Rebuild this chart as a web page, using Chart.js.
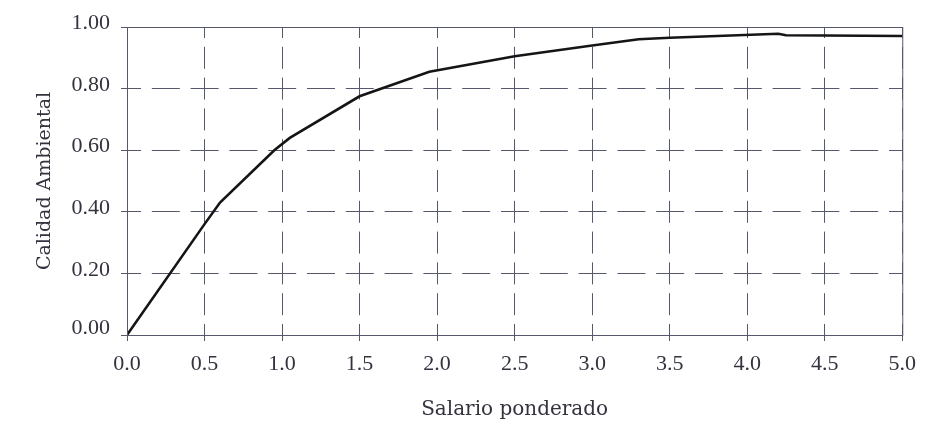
<!DOCTYPE html>
<html>
<head>
<meta charset="utf-8">
<script src="https://cdn.jsdelivr.net/npm/chart.js@4.4.0/dist/chart.umd.min.js"></script>
<style>
    html, body { margin: 0; padding: 0; background: #ffffff; }
    #wrap { width: 926px; height: 434px; }
</style>
</head>
<body>
<div id="wrap"><canvas id="chart" width="926" height="434"></canvas></div>
<script>
// Curve
const salario = [0, 0.5, 0.6, 0.95, 1.05, 1.5, 1.95, 2.5, 3.0, 3.3, 3.5, 4.2, 4.25, 5.0];
const calidad = [0, 0.36, 0.43, 0.6, 0.64, 0.775, 0.855, 0.905, 0.94, 0.96, 0.965, 0.978, 0.973, 0.971];

const xTicks = [0, 0.5, 1, 1.5, 2, 2.5, 3, 3.5, 4, 4.5, 5];
const yTicks = [0, 0.2, 0.4, 0.6, 0.8, 1.0];

const textColor = '#33333f';
const gridColor = '#55586a';
const tickFont = "'Liberation Serif', serif";
const titleFont = "'DejaVu Serif', serif";

// Solid frame around the plot area
const framePlugin = {
    id: 'frame',
    afterDraw(chart) {
        const { ctx, chartArea } = chart;
        ctx.save();
        ctx.strokeStyle = gridColor;
        ctx.lineWidth = 1;
        ctx.setLineDash([]);
        ctx.strokeRect(chartArea.left + 0.5, chartArea.top + 0.5,
            chartArea.right - chartArea.left, chartArea.bottom - chartArea.top);
        ctx.restore();
    }
};

new Chart(document.getElementById('chart').getContext('2d'), {
    type: 'line',
    data: {
        datasets: [{
            data: salario.map((x, i) => ({ x: x, y: calidad[i] })),
            borderColor: '#151515',
            borderWidth: 2.6,
            pointRadius: 0,
            tension: 0,
            fill: false
        }]
    },
    options: {
        responsive: false,
        animation: false,
        layout: { padding: { left: 0, right: 22, top: 27, bottom: 0 } },
        plugins: {
            legend: { display: false },
            tooltip: { enabled: false }
        },
        scales: {
            x: {
                type: 'linear',
                min: 0,
                max: 5,
                afterBuildTicks: (scale) => { scale.ticks = xTicks.map(v => ({ value: v })); },
                afterFit: (scale) => { scale.height = 99; },
                ticks: {
                    color: textColor,
                    font: { family: tickFont, size: 22 },
                    padding: 10,
                    maxRotation: 0,
                    callback: (v) => Number(v).toFixed(1)
                },
                grid: {
                    color: gridColor,
                    lineWidth: 1,
                    tickLength: 6,
                    tickColor: gridColor,
                    tickBorderDash: []
                },
                border: { display: false, dash: [22, 8.8], dashOffset: 11 },
                title: {
                    display: true,
                    text: 'Salario ponderado',
                    color: textColor,
                    font: { family: titleFont, size: 20 },
                    padding: { top: 0, bottom: 12 }
                }
            },
            y: {
                min: 0,
                max: 1,
                afterBuildTicks: (scale) => { scale.ticks = yTicks.map(v => ({ value: v })); },
                afterFit: (scale) => { scale.width = 127; },
                ticks: {
                    color: textColor,
                    font: { family: tickFont, size: 22, lineHeight: 0.32 },
                    padding: 11,
                    // labels sit a little above their grid line, the bottom one more so
                    callback: (v) => v === 0 ? [Number(v).toFixed(2), '', ''] : [Number(v).toFixed(2), '']
                },
                grid: {
                    color: gridColor,
                    lineWidth: 1,
                    tickLength: 6,
                    tickColor: gridColor,
                    tickBorderDash: []
                },
                border: { display: false, dash: [28, 10.8], dashOffset: 14 },
                title: {
                    display: true,
                    text: 'Calidad Ambiental',
                    color: textColor,
                    font: { family: titleFont, size: 19 },
                    padding: { top: 34, bottom: 0 }
                }
            }
        }
    },
    plugins: [framePlugin]
});
</script>
</body>
</html>
